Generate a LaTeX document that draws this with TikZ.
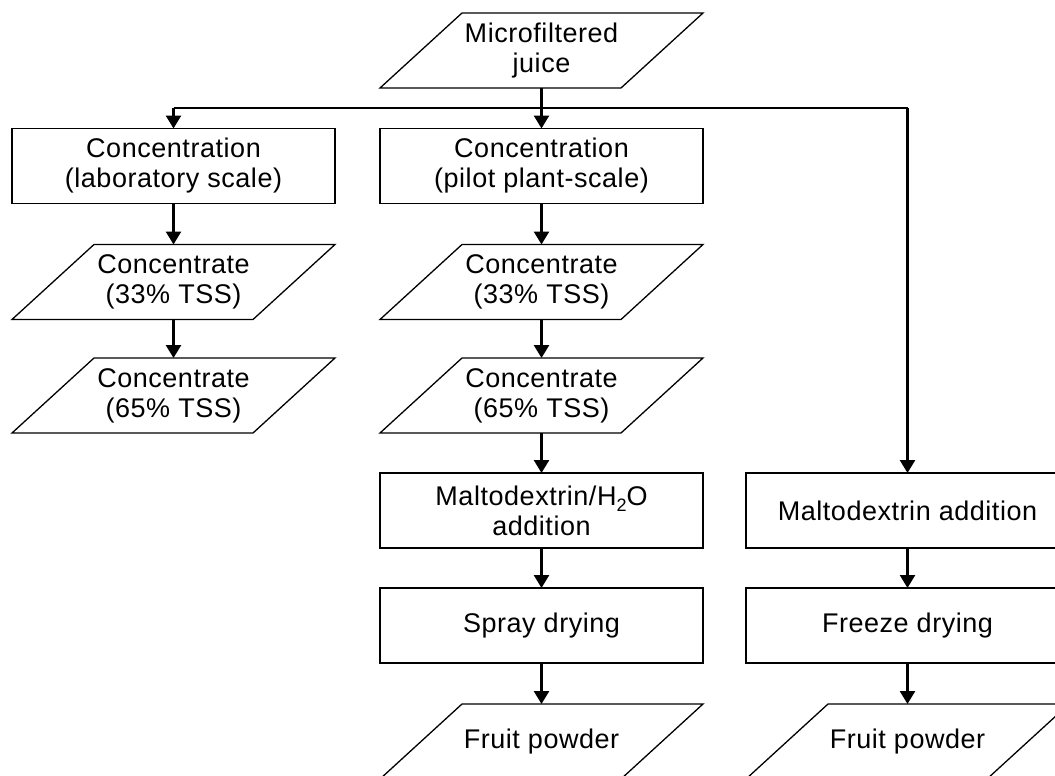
\documentclass[tikz,border=0pt]{standalone}
\usepackage{fontspec}
\setmainfont[LetterSpace=2]{Liberation Sans}
\usetikzlibrary{arrows.meta}
\tikzset{
  every node/.style={font=\fontsize{27}{30}\selectfont, align=center, inner sep=0pt, outer sep=0pt},
  procbox/.style={draw, line width=1.3pt, minimum width=323pt, minimum height=75pt},
  pgram/.style={minimum width=323pt, minimum height=75pt},
  pgramline/.style={line width=1.3pt, line join=miter},
  flow/.style={line width=2.6pt, -{Triangle[width=15pt,length=13pt]}},
  branch/.style={line width=1.5pt}
}
\newcommand{\drawpgram}[1]{\draw[pgramline] ([xshift=82pt]#1.north west) -- (#1.north east) -- ([xshift=-82pt]#1.south east) -- (#1.south west) -- cycle;}
\newcommand{\lowsub}[1]{\raisebox{-6pt}{\fontsize{18}{18}\selectfont #1}}
\begin{document}
\begin{tikzpicture}[x=1pt,y=-1pt]
\useasboundingbox (0,0) rectangle (1055,776);
\clip (0,0) rectangle (1055,776);
% top input
\node[pgram] (juice) at (541.5,50.5) {Microfiltered\\juice};
\drawpgram{juice}
% left column
\node[procbox] (l1) at (173.5,166) {Concentration\\(laboratory scale)};
\node[pgram] (l2) at (173.5,282) {Concentrate\\(33\% TSS)};
\drawpgram{l2}
\node[pgram] (l3) at (173.5,395.5) {Concentrate\\(65\% TSS)};
\drawpgram{l3}
% middle column
\node[procbox] (m1) at (541.5,166) {Concentration\\(pilot plant-scale)};
\node[pgram] (m2) at (541.5,282) {Concentrate\\(33\% TSS)};
\drawpgram{m2}
\node[pgram] (m3) at (541.5,395.5) {Concentrate\\(65\% TSS)};
\drawpgram{m3}
\node[procbox] (m4) at (541.5,510.5) {Maltodextrin/H\lowsub{2}O\\addition};
\node[procbox] (m5) at (541.5,625.5) {Spray drying};
\node[pgram] (m6) at (541.5,741.5) {Fruit powder};
\drawpgram{m6}
% right column
\node[procbox] (r1) at (907.5,510.5) {Maltodextrin addition};
\node[procbox] (r2) at (907.5,625.5) {Freeze drying};
\node[pgram] (r3) at (907.5,741.5) {Fruit powder};
\drawpgram{r3}
% connectors
\coordinate (split) at (541.5,108);
\coordinate (splitL) at (l1.north |- split);
\coordinate (splitR) at (r1.north |- split);
\draw[branch] (splitL) -- (splitR);
\draw[flow] (juice.south) -- (m1.north);
\draw[flow] (splitL) -- (l1.north);
\draw[flow] (splitR) -- (r1.north);
\draw[flow] (l1.south) -- (l2.north);
\draw[flow] (l2.south) -- (l3.north);
\draw[flow] (m1.south) -- (m2.north);
\draw[flow] (m2.south) -- (m3.north);
\draw[flow] (m3.south) -- (m4.north);
\draw[flow] (m4.south) -- (m5.north);
\draw[flow] (m5.south) -- (m6.north);
\draw[flow] (r1.south) -- (r2.north);
\draw[flow] (r2.south) -- (r3.north);
\end{tikzpicture}
\end{document}
